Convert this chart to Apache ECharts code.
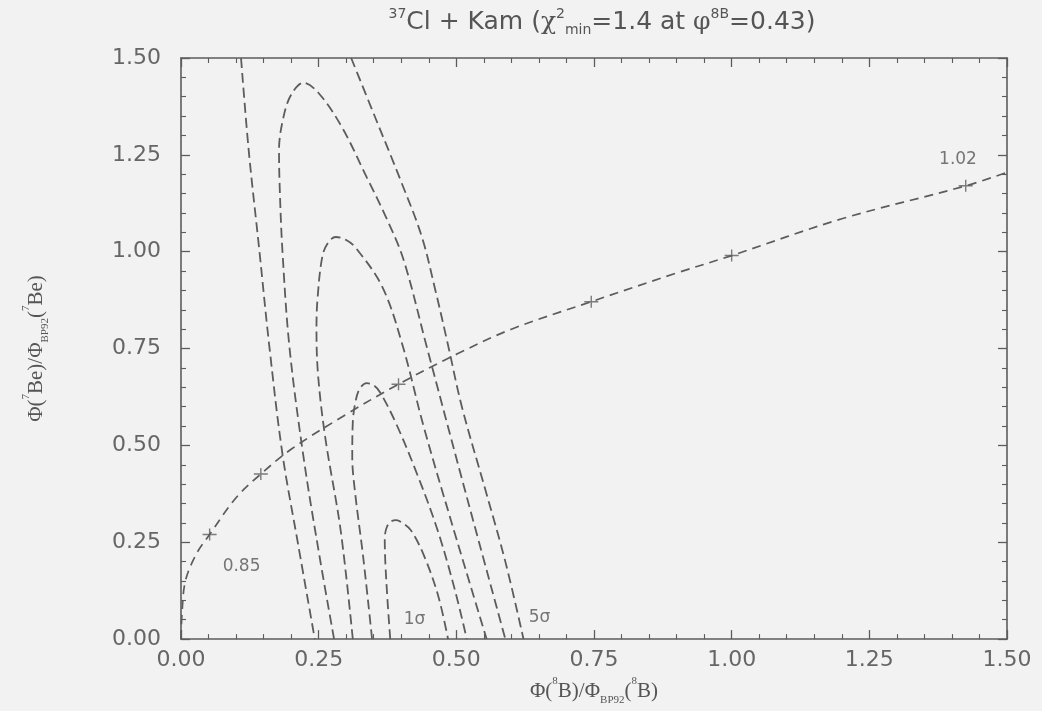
<!DOCTYPE html>
<html><head><meta charset="utf-8">
<script src="https://cdn.jsdelivr.net/npm/echarts@6/dist/echarts.min.js"></script>
<style>html,body{margin:0;padding:0;background:#f2f2f2;}#c{width:1042px;height:711px;}</style>
</head><body><div id="c"></div>
<script>
// ---- data ----
const sigma1 = [[0.380,0],[0.375,0.10],[0.371,0.20],[0.370,0.26],[0.374,0.29],[0.382,0.304],[0.391,0.307],[0.402,0.300],[0.418,0.280],[0.442,0.213],[0.467,0.112],[0.485,0]];
const sigma2 = [[0.347,0],[0.331,0.21],[0.316,0.38],[0.311,0.47],[0.312,0.56],[0.3165,0.61],[0.324,0.645],[0.337,0.661],[0.350,0.655],[0.362,0.636],[0.392,0.552],[0.429,0.425],[0.466,0.281],[0.497,0.129],[0.519,0]];
const sigma3 = [[0.312,0],[0.290,0.28],[0.262,0.52],[0.249,0.68],[0.246,0.80],[0.248,0.88],[0.257,0.99],[0.268,1.025],[0.281,1.038],[0.300,1.030],[0.318,1.009],[0.366,0.908],[0.403,0.755],[0.440,0.552],[0.492,0.298],[0.555,0]];
const sigma4 = [[0.278,0],[0.252,0.21],[0.223,0.465],[0.197,0.753],[0.184,1.007],[0.179,1.177],[0.178,1.262],[0.186,1.347],[0.200,1.405],[0.222,1.436],[0.249,1.411],[0.292,1.322],[0.338,1.19],[0.372,1.09],[0.404,0.98],[0.446,0.756],[0.511,0.409],[0.589,0]];
const sigma5Left = [[0.109,1.5],[0.123,1.261],[0.142,1.007],[0.160,0.761],[0.184,0.48],[0.212,0.25],[0.243,0]];
const sigma5Right = [[0.309,1.5],[0.352,1.349],[0.400,1.18],[0.437,1.04],[0.462,0.90],[0.484,0.765],[0.510,0.60],[0.553,0.384],[0.589,0.20],[0.622,0]];
const bpTrack = [[0,0],[0.002,0.07],[0.008,0.15],[0.028,0.22],[0.052,0.27],[0.1,0.365],[0.145,0.426],[0.2,0.49],[0.3,0.58],[0.395,0.658],[0.5,0.735],[0.6,0.80],[0.745,0.871],[0.9,0.945],[1.0,0.99],[1.2,1.085],[1.425,1.17],[1.5,1.205]];
const bpMarks = [[0.052,0.27],[0.145,0.426],[0.395,0.658],[0.745,0.871],[1.0,0.99],[1.425,1.17]];
const annotations = [
  {x:0.110, y:0.188, text:'0.85'},
  {x:1.411, y:1.238, text:'1.02'},
  {x:0.424, y:0.050, text:'1σ'},
  {x:0.651, y:0.056, text:'5σ'}
];
const xTickValues = [0,0.25,0.5,0.75,1.0,1.25,1.5];
const yTickValues = [0,0.25,0.5,0.75,1.0,1.25,1.5];

// ---- chart ----
const INK = '#5c5c5c';
const chart = echarts.init(document.getElementById('c'));
function axisBase(showLabels, pos, margin){
  return {
    type:'value', min:0, max:1.5, interval:0.25, position:pos,
    axisLine:{show:true, onZero:false, lineStyle:{color:INK, width:1.6}},
    axisTick:{show:true, inside:true, length:9, lineStyle:{color:INK, width:1.3}},
    minorTick:{show:true, splitNumber:5, length:5, lineStyle:{color:INK, width:1.1}},
    splitLine:{show:false}, minorSplitLine:{show:false},
    axisLabel:{show:showLabels, color:'#666', fontFamily:'DejaVu Sans', fontSize:22, margin:margin,
      formatter:v=>Number(v).toFixed(2)}
  };
}
const supSub = (ff, big, small) => ({
  n:{fontFamily:ff, fontSize:big, fontWeight:'normal', color:'#555', lineHeight:30, verticalAlign:'middle'},
  s:{fontFamily:ff, fontSize:small, fontWeight:'normal', color:'#555', lineHeight:small, verticalAlign:'top'},
  b:{fontFamily:ff, fontSize:small, fontWeight:'normal', color:'#555', lineHeight:small, verticalAlign:'bottom'},
  g:{fontFamily:'DejaVu Serif', fontSize:big, fontWeight:'normal', color:'#555', lineHeight:30, verticalAlign:'middle'}
});
const dashLine = (data) => ({
  type:'line', data:data, xAxisIndex:0, yAxisIndex:0, showSymbol:false, symbol:'none', smooth:0.35,
  lineStyle:{color:INK, width:1.8, type:[10,5]}, silent:true, z:3
});
const option = {
  backgroundColor:'#f2f2f2',
  animation:false,
  title:{
    text:'{s|37}{n|Cl + Kam (}{g|χ}{s|2}{b|min}{n|=1.4 at }{g|φ}{s|8B}{n|=0.43)}',
    left:597, top:2, textAlign:'center',
    textStyle:{fontWeight:'normal', rich:supSub('DejaVu Sans',25,14)}
  },
  grid:{left:181, right:35, top:58, bottom:63},
  xAxis:[
    Object.assign(axisBase(true,'bottom',10), {
      name:'{n|Φ(}{s|8}{n|B)/Φ}{b|BP92}{n|(}{s|8}{n|B)}',
      nameLocation:'middle', nameGap:27,
      nameTextStyle:{rich:supSub('Liberation Serif',21,11)}
    }),
    axisBase(false,'top',8)
  ],
  yAxis:[
    Object.assign(axisBase(true,'left',20), {
      name:'{n|Φ(}{s|7}{n|Be)/Φ}{b|BP92}{n|(}{s|7}{n|Be)}',
      nameLocation:'middle', nameGap:130,
      nameTextStyle:{rich:supSub('Liberation Serif',21,11)}
    }),
    axisBase(false,'right',8)
  ],
  series:[
    dashLine(sigma1), dashLine(sigma2), dashLine(sigma3), dashLine(sigma4),
    dashLine(sigma5Left), dashLine(sigma5Right),
    Object.assign(dashLine(bpTrack), {lineStyle:{color:INK, width:1.7, type:[9,6]}}),
    {type:'scatter', data:bpMarks, symbol:'path://M0,4.4H12V5.6H0Z M5.4,0H6.6V10H5.4Z', symbolSize:[14,12],
      itemStyle:{color:INK}, silent:true, z:4},
    {type:'scatter', data:annotations.map(a=>({name:a.text, value:[a.x,a.y]})), symbolSize:1,
      itemStyle:{color:'rgba(0,0,0,0)'}, silent:true, z:5,
      label:{show:true, position:'inside', formatter:p=>p.name, color:'#555', fontFamily:'DejaVu Sans', fontSize:17}}
  ]
};
chart.setOption(option);
</script>
</body></html>
